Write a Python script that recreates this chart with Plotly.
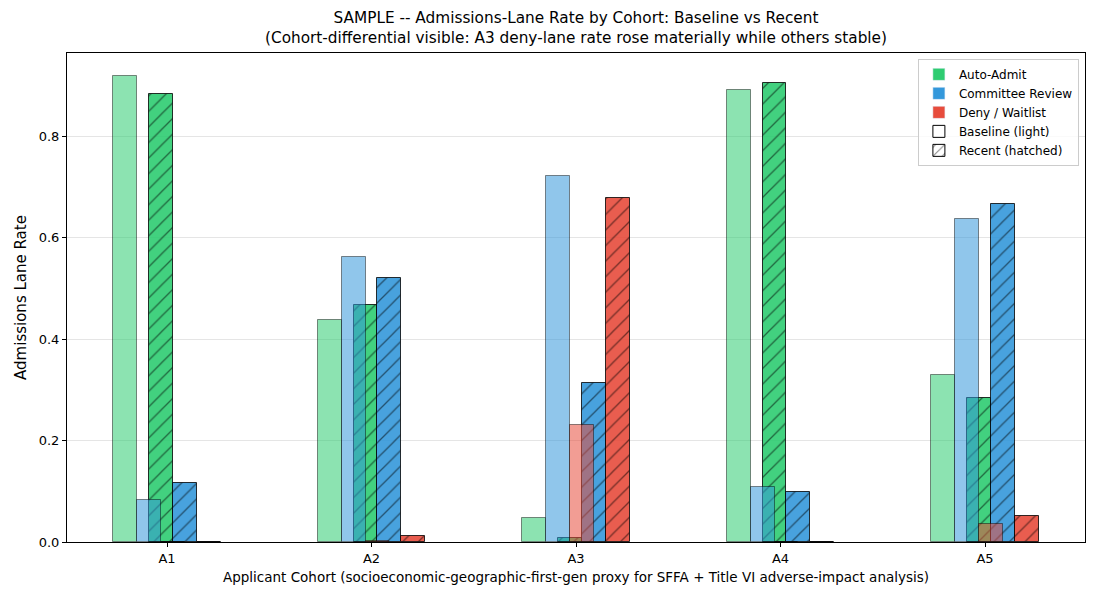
import plotly.graph_objects as go

cohorts = ["A1", "A2", "A3", "A4", "A5"]
lanes = ["Auto-Admit", "Committee Review", "Deny / Waitlist"]
lane_colors = ["46,204,113", "52,152,219", "231,76,60"]

baseline_auto = [0.918, 0.437, 0.048, 0.892, 0.329]
baseline_committee = [0.082, 0.561, 0.722, 0.108, 0.637]
baseline_deny = [0.0, 0.002, 0.230, 0.0, 0.035]

recent_auto = [0.884, 0.467, 0.007, 0.904, 0.283]
recent_committee = [0.116, 0.521, 0.314, 0.098, 0.667]
recent_deny = [0.0, 0.012, 0.679, 0.0, 0.051]

baseline = [baseline_auto, baseline_committee, baseline_deny]
recent = [recent_auto, recent_committee, recent_deny]

x = list(range(len(cohorts)))
w = 0.35 / 3
shift = 0.35 / 4

fig = go.Figure()
for i, lane in enumerate(lanes):
    c = lane_colors[i]
    # baseline (light)
    fig.add_trace(go.Bar(
        x=x, y=baseline[i], width=w, offset=-shift + (i - 1) * w - w / 2,
        marker=dict(color=f"rgba({c},0.55)",
                    line=dict(color="rgba(0,0,0,0.45)", width=1)),
        showlegend=False, hoverinfo="skip"))
    # recent (hatched)
    fig.add_trace(go.Bar(
        x=x, y=recent[i], width=w, offset=shift + (i - 1) * w - w / 2,
        marker=dict(color=f"rgba({c},0.9)",
                    line=dict(color="rgba(0,0,0,0.8)", width=1),
                    pattern=dict(shape="/", fillmode="overlay", fgcolor="black",
                                 size=11, solidity=0.12)),
        showlegend=False, hoverinfo="skip"))

# legend proxies
for i, lane in enumerate(lanes):
    fig.add_trace(go.Bar(x=[None], y=[None], name=lane,
                         marker=dict(color=f"rgb({lane_colors[i]})"), showlegend=True))
fig.add_trace(go.Bar(x=[None], y=[None], name="Baseline (light)",
                     marker=dict(color="white", line=dict(color="black", width=1)),
                     showlegend=True))
fig.add_trace(go.Bar(x=[None], y=[None], name="Recent (hatched)",
                     marker=dict(color="white", line=dict(color="black", width=1),
                                 pattern=dict(shape="/", fillmode="overlay",
                                              fgcolor="black", size=8, solidity=0.15)),
                     showlegend=True))

title_text = ("SAMPLE -- Admissions-Lane Rate by Cohort: Baseline vs Recent<br>"
              "(Cohort-differential visible: A3 deny-lane rate rose materially while others stable)")

fig.update_layout(
    width=1100, height=600,
    barmode="overlay",
    plot_bgcolor="white", paper_bgcolor="white",
    font=dict(family="DejaVu Sans", size=13, color="black"),
    margin=dict(l=67, r=15, t=53, b=58),
    annotations=[dict(text=title_text, xref="paper", yref="paper", x=0.5, y=1,
                      xanchor="center", yanchor="bottom", yshift=4, showarrow=False,
                      font=dict(size=15.3, family="DejaVu Sans"))],
    legend=dict(x=0.994, y=0.988, xanchor="right", yanchor="top",
                bgcolor="rgba(255,255,255,0.8)", bordercolor="#cccccc", borderwidth=1,
                font=dict(size=12), tracegroupgap=0, itemwidth=30),
    bargap=0,
)
fig.update_xaxes(
    range=[-0.489, 4.489], tickvals=x, ticktext=cohorts,
    showline=True, linecolor="black", linewidth=1, mirror=True,
    ticks="outside", ticklen=4, tickcolor="black", showgrid=False, zeroline=False,
    tickfont=dict(size=13),
    title=dict(text="Applicant Cohort (socioeconomic-geographic-first-gen proxy for SFFA + Title VI adverse-impact analysis)",
               font=dict(size=13.5), standoff=7))
fig.update_yaxes(
    range=[0, 0.964], tickvals=[0, 0.2, 0.4, 0.6, 0.8],
    ticktext=["0.0", "0.2", "0.4", "0.6", "0.8"],
    showline=True, linecolor="black", linewidth=1, mirror=True,
    ticks="outside", ticklen=4, tickcolor="black",
    showgrid=True, gridcolor="rgba(0,0,0,0.1)", gridwidth=1, zeroline=False,
    tickfont=dict(size=13),
    title=dict(text="Admissions Lane Rate", font=dict(size=15), standoff=8))

fig.write_html("out.html")
